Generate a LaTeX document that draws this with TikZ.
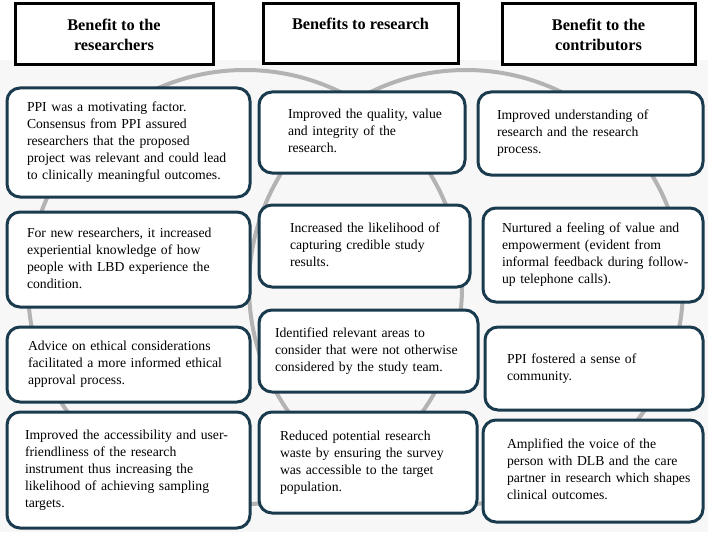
\documentclass[tikz,border=0pt]{standalone}
\usepackage{fontspec}
\setmainfont{Liberation Serif}
\definecolor{bordc}{HTML}{1A3A4E}
\definecolor{ringc}{HTML}{B3B3B3}
\definecolor{bgc}{HTML}{F7F7F7}
\tikzset{
  cbox/.style={draw=bordc, line width=3pt, fill=white, rounded corners=13pt,
    align=left, inner ysep=2pt, font=\fontsize{13.7}{17}\selectfont},
  hbox/.style={draw=black, line width=3pt, fill=white, align=center,
    font=\bfseries\fontsize{16.3}{20}\selectfont},
  ring/.style={draw=ringc, line width=4pt}
}
\newcommand\mybox[7]{%
  \pgfmathsetmacro\bxw{#4-#2}%
  \pgfmathsetmacro\bxh{#5-#3}%
  \pgfmathsetmacro\bxt{#4-#2-2*#6}%
  \pgfmathsetmacro\bxcx{(#2+#4)/2}%
  \pgfmathsetmacro\bxcy{(#3+#5)/2}%
  \node[cbox, minimum width=\bxw pt, minimum height=\bxh pt, inner xsep=#6pt,
        text width=\bxt pt] (#1) at (\bxcx,\bxcy)
        {\begin{tabular}{@{}l@{}}#7\end{tabular}};}
\newcommand\myhead[6]{%
  \pgfmathsetmacro\bxw{#4-#2}%
  \pgfmathsetmacro\bxh{#5-#3}%
  \pgfmathsetmacro\bxcx{(#2+#4)/2}%
  \pgfmathsetmacro\bxcy{(#3+#5)/2}%
  \node[hbox, minimum width=\bxw pt, minimum height=\bxh pt] (#1) at (\bxcx,\bxcy) {#6};}
\begin{document}
\begin{tikzpicture}[x=1pt,y=-1pt]
\useasboundingbox (0,0) rectangle (708,532);
\fill[white] (0,0) rectangle (708,532);
\fill[bgc] (0,60) rectangle (708,532);
% Venn rings
\draw[ring] (245,287) circle[radius=217pt];
\draw[ring] (466,287) circle[radius=217pt];
% headers
\myhead{h1}{15}{4}{213}{65}{Benefit to the\\researchers}
\myhead{h2}{263}{4}{458}{64}{Benefits to research\\\mbox{}}
\myhead{h3}{502}{4}{695}{65}{Benefit to the\\contributors}
% column 1
\mybox{r1}{7}{88}{250}{197}{20}{PPI was a motivating factor.\\Consensus from PPI assured\\researchers that the proposed\\project was relevant and could lead\\to clinically meaningful outcomes.}
\mybox{r2}{7}{212}{250}{307}{20}{For new researchers, it increased\\experiential knowledge of how\\people with LBD experience the\\condition.}
\mybox{r3}{7}{327}{250}{402}{21}{Advice on ethical considerations\\facilitated a more informed ethical\\approval process.}
\mybox{r4}{7}{412}{250}{528}{18}{Improved the accessibility and user-\\friendliness of the research\\instrument thus increasing the\\likelihood of achieving sampling\\targets.}
% column 2
\mybox{s1}{259}{92}{465}{173}{29}{Improved the quality, value\\and integrity of the\\research.}
\mybox{s2}{259}{205}{470}{287}{31}{Increased the likelihood of\\capturing credible study\\results.}
\mybox{s3}{259}{310}{478}{392}{16}{Identified relevant areas to\\consider that were not otherwise\\considered by the study team.}
\mybox{s4}{259}{412}{477}{513}{21}{Reduced potential research\\waste by ensuring the survey\\was accessible to the target\\population.}
% column 3
\mybox{c1}{478}{92}{703}{175}{19}{Improved understanding of\\research and the research\\process.}
\mybox{c2}{483}{208}{703}{302}{19}{Nurtured a feeling of value and\\empowerment (evident from\\informal feedback during follow-\\up telephone calls).}
\mybox{c3}{485}{327}{703}{410}{22}{PPI fostered a sense of\\community.}
\mybox{c4}{483}{420}{703}{522}{24}{Amplified the voice of the\\person with DLB and the care\\partner in research which shapes\\clinical outcomes.}
\end{tikzpicture}
\end{document}
